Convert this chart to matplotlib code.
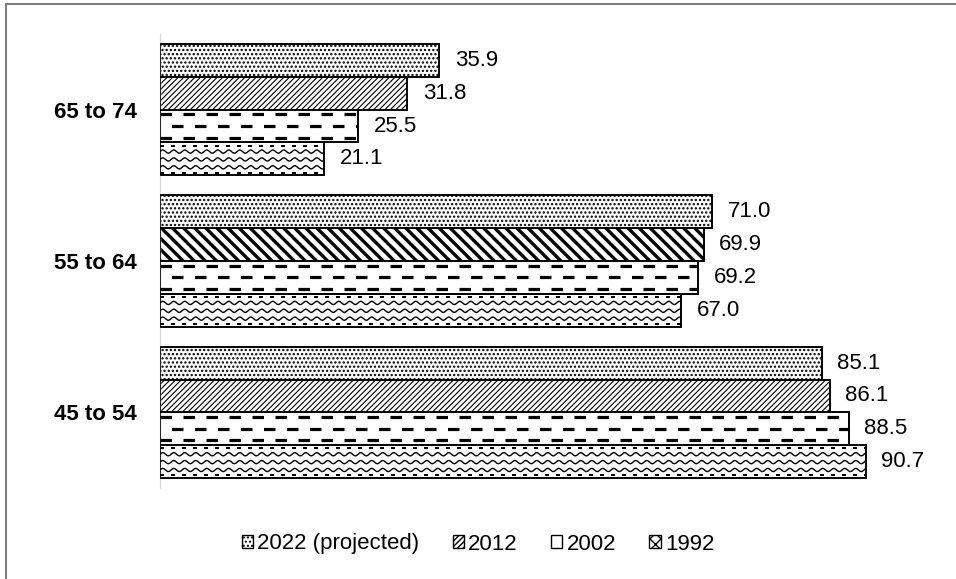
import numpy as np
import matplotlib
matplotlib.use("Agg")
import matplotlib.pyplot as plt
from matplotlib.patches import Patch, Rectangle

plt.rcParams['font.family'] = ['Liberation Sans', 'DejaVu Sans']
plt.rcParams['lines.scale_dashes'] = False

categories = ["45 to 54", "55 to 64", "65 to 74"]
series = ["2022 (projected)", "2012", "2002", "1992"]
v2022 = [85.1, 71.0, 35.9]
v2012 = [86.1, 69.9, 31.8]
v2002 = [88.5, 69.2, 25.5]
v1992 = [90.7, 67.0, 21.1]
values = [v2022, v2012, v2002, v1992]

PT = 0.72  # points per pixel at dpi 100

fig = plt.figure(figsize=(9.56, 5.79), dpi=100)
ax = fig.add_axes([0.1674, 0.1572, 0.8138, 0.7841])
ax.set_xlim(0, 100)
ax.set_ylim(-0.5, 2.5)

y = np.arange(len(categories))
h = 0.866 / 4
offsets = [1.5 * h, 0.5 * h, -0.5 * h, -1.5 * h]
hatches = ['....', '//////', None, None]
hatch_lw = [1.1, 0.8, 1.0, 1.0]


def bar_px(v, yc):
    """pixel box of a bar: x0, y0 (bottom), x1, y1 (top)"""
    x0, y0 = ax.transData.transform((0, yc - h / 2))
    x1, y1 = ax.transData.transform((v, yc + h / 2))
    return x0, y0, x1, y1


def to_data(xp, yp):
    pts = ax.transData.inverted().transform(np.column_stack([xp, yp]))
    return pts[:, 0], pts[:, 1]


def dashed_rows(bar, v, yc):
    x0, y0, x1, y1 = bar_px(v, yc)
    for frac, off in [(0.14, 0), (0.5, 11.5), (0.86, 0)]:
        yp = y1 - frac * (y1 - y0)
        xd, yd = to_data([x0, x1], [yp, yp])
        ln, = ax.plot(xd, yd, color='black', lw=3.2 * PT, zorder=3,
                      ls=(off * PT, (11.5 * PT, 11.5 * PT)), dash_capstyle='butt')
        ln.set_clip_path(bar)


def wavy_rows(bar, v, yc):
    x0, y0, x1, y1 = bar_px(v, yc)
    xp = np.arange(x0, x1 + 1, 0.5)
    for frac in [0.28, 0.52, 0.76]:
        yp = y1 - frac * (y1 - y0) + 1.6 * np.sin(2 * np.pi * (xp - x0) / 11)
        xd, yd = to_data(xp, yp)
        ln, = ax.plot(xd, yd, color='black', lw=1.4 * PT, zorder=3)
        ln.set_clip_path(bar)
    for frac in [0.1, 0.92]:
        yp = y1 - frac * (y1 - y0)
        xd, yd = to_data([x0, x1], [yp, yp])
        ln, = ax.plot(xd, yd, color='black', lw=2 * PT, zorder=3,
                      ls=(0, (4 * PT, 7 * PT)), dash_capstyle='butt')
        ln.set_clip_path(bar)


for i, vals in enumerate(values):
    bars = ax.barh(y + offsets[i], vals, height=h, color='white',
                   edgecolor='black', linewidth=1.2, hatch=hatches[i], zorder=2)
    for p in bars.patches:
        if hasattr(p, 'set_hatch_linewidth'):
            p.set_hatch_linewidth(hatch_lw[i])
    if i == 1:
        # the 55 to 64 bar of 2012 carries a wider, heavier stripe
        mid = bars.patches[1]
        mid.set_hatch('\\\\\\')
        if hasattr(mid, 'set_hatch_linewidth'):
            mid.set_hatch_linewidth(2.4)
    for bar, v, yc in zip(bars.patches, vals, y + offsets[i]):
        if i == 2:
            dashed_rows(bar, v, yc)
        elif i == 3:
            wavy_rows(bar, v, yc)
        ax.annotate(f"{v:.1f}", (v, yc), xytext=(11, 0),
                    textcoords='offset points', va='center', ha='left',
                    fontsize=16)
    # outline on top of the drawn patterns
    ax.barh(y + offsets[i], vals, height=h, fill=False,
            edgecolor='black', linewidth=1.2, zorder=4)

ax.set_yticks(y, categories, fontsize=16, fontweight='bold')
ax.set_xticks([])
ax.tick_params(axis='y', length=0, pad=17)
for s in ['top', 'right', 'bottom']:
    ax.spines[s].set_visible(False)
ax.spines['left'].set_color('#d9d9d9')
ax.spines['left'].set_linewidth(1.0)

handles = [
    Patch(facecolor='white', edgecolor='black', hatch='....', lw=1),
    Patch(facecolor='white', edgecolor='black', hatch='//////', lw=1),
    Patch(facecolor='white', edgecolor='black', lw=1),
    Patch(facecolor='white', edgecolor='black', hatch='xxx', lw=1),
]
fig.legend(handles, series, loc='center', bbox_to_anchor=(0.5, 1 - 544 / 579),
           ncol=4, frameon=False, fontsize=16, handlelength=0.5,
           handleheight=0.5, handletextpad=0.2, columnspacing=1.5)

fig.add_artist(Rectangle((6 / 956, -0.1), 1.2, 1 - 4 / 579 + 0.1,
                         transform=fig.transFigure, fill=False,
                         edgecolor='#7f7f7f', lw=1.5))

fig.savefig("out.png", dpi=100)
